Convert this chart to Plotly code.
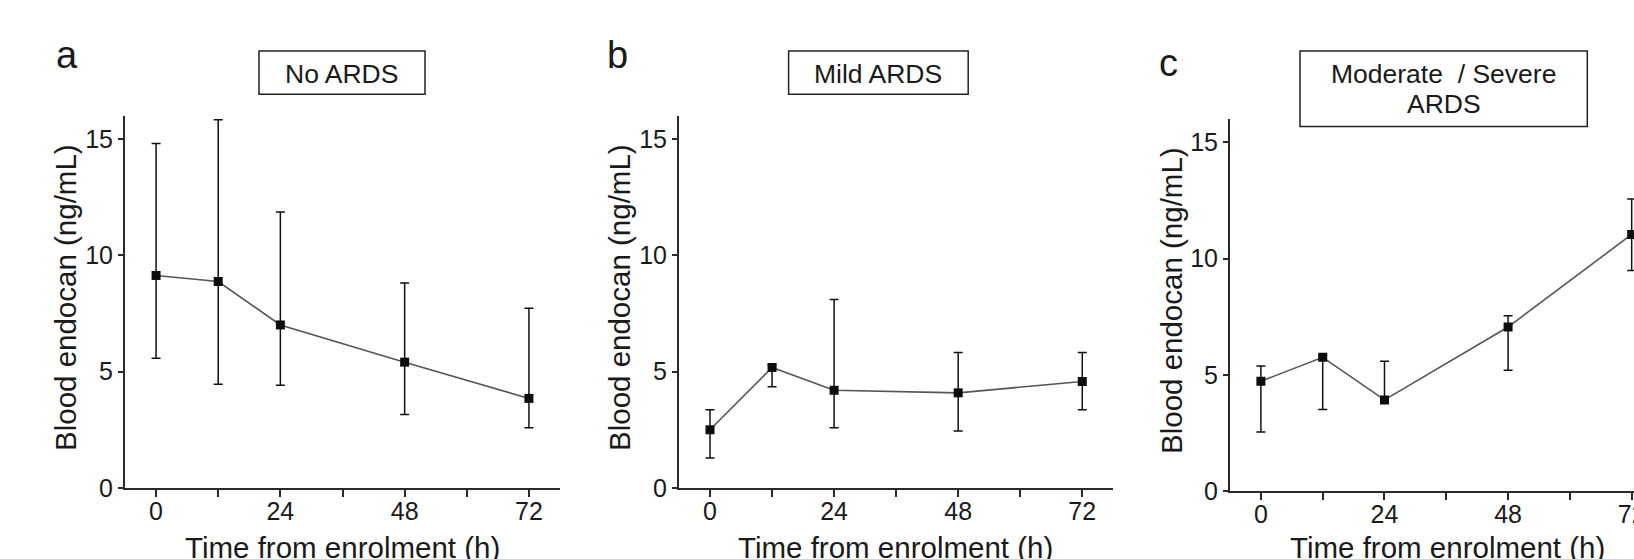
import plotly.graph_objects as go

W, H = 1634, 559

# ---------------- data ----------------
hours = [0, 12, 24, 48, 72]

no_ards_mid = [9.14, 8.88, 7.01, 5.41, 3.85]
no_ards_hi = [14.82, 15.84, 11.87, 8.82, 7.73]
no_ards_lo = [5.58, 4.46, 4.42, 3.16, 2.59]

mild_mid = [2.50, 5.18, 4.20, 4.09, 4.58]
mild_hi = [3.36, 5.30, 8.11, 5.83, 5.83]
mild_lo = [1.29, 4.35, 2.59, 2.45, 3.36]

modsev_mid = [4.73, 5.76, 3.93, 7.06, 11.04]
modsev_hi = [5.39, 5.85, 5.59, 7.54, 12.56]
modsev_lo = [2.55, 3.52, 3.85, 5.20, 9.49]

panel_letters = ["a", "b", "c"]
panel_titles = ["No ARDS", "Mild ARDS", "Moderate\u00a0 / Severe", "ARDS"]
x_title = "Time from enrolment (h)"
y_title = "Blood endocan (ng/mL)"
x_tickvals = [0, 12, 24, 36, 48, 60, 72]
x_ticktext = ["0", "", "24", "", "48", "", "72"]
y_tickvals = [0, 5, 10, 15]

FONT = "Liberation Sans, Arial, Helvetica, sans-serif"
INK = "#1a1a1a"
AX = "#2a2a2a"


def px(x):
    return x / W


def py(y):
    return 1 - y / H


fig = go.Figure()

series = [
    (no_ards_mid, no_ards_hi, no_ards_lo),
    (mild_mid, mild_hi, mild_lo),
    (modsev_mid, modsev_hi, modsev_lo),
]

for i, (mid, hi, lo) in enumerate(series):
    sfx = "" if i == 0 else str(i + 1)
    fig.add_trace(go.Scatter(
        x=hours, y=mid,
        xaxis="x" + sfx, yaxis="y" + sfx,
        mode="lines+markers",
        line=dict(color="#555555", width=1.6),
        marker=dict(symbol="square", size=9, color="#0d0d0d"),
        error_y=dict(type="data", symmetric=False,
                     array=[h - m for h, m in zip(hi, mid)],
                     arrayminus=[m - l for m, l in zip(mid, lo)],
                     color="#111111", thickness=1.5, width=4.5),
        showlegend=False,
        cliponaxis=True,
    ))

# domains in pixels
x_doms = [(125, 560), (679, 1113.3), (1230, 1634)]
y_doms = [(116, 487.9), (116, 487.9), (118.9, 491.4)]
x_ranges = [[-6, 78], [-6, 78], [-6, 72.45]]

axis_common = dict(
    showline=True, linecolor=AX, linewidth=2, showgrid=False, zeroline=False,
    ticks="outside", tickcolor=AX, tickwidth=2,
    tickfont=dict(family=FONT, size=25, color=INK),
    automargin=False, fixedrange=True,
)

layout = dict()
for i in range(3):
    sfx = "" if i == 0 else str(i + 1)
    xd, yd = x_doms[i], y_doms[i]
    layout["xaxis" + sfx] = dict(
        axis_common,
        domain=[px(xd[0]), px(xd[1])],
        range=x_ranges[i],
        tickvals=x_tickvals, ticktext=x_ticktext, ticklen=7,
        ticklabelstandoff=-7,
        ticklabeloverflow="allow",
        anchor="y" + sfx,
    )
    layout["yaxis" + sfx] = dict(
        axis_common,
        domain=[py(yd[1]), py(yd[0])],
        range=[0, 16],
        tickvals=y_tickvals, ticklen=5,
        ticklabelstandoff=0,
        anchor="x" + sfx,
    )

fig.update_layout(
    **layout,
    width=W, height=H,
    margin=dict(l=0, r=0, t=0, b=0),
    paper_bgcolor="white", plot_bgcolor="white",
    font=dict(family=FONT, color=INK),
)

ann = []
# panel letters
for (lx, ly), t in zip([(67, 55), (617, 55), (1168, 63)], panel_letters):
    ann.append(dict(x=px(lx), y=py(ly), xref="paper", yref="paper", text=t,
                    showarrow=False, xanchor="center", yanchor="middle",
                    font=dict(family=FONT, size=38, color=INK)))

# title boxes
boxes = [(259, 51, 425, 94.3), (788.6, 51, 968.2, 94.3), (1300, 51, 1587.3, 126.4)]
shapes = []
for (x0, y0, x1, y1) in boxes:
    shapes.append(dict(type="rect", xref="paper", yref="paper",
                       x0=px(x0), x1=px(x1), y0=py(y1), y1=py(y0),
                       line=dict(color="#222222", width=1.5), fillcolor="rgba(0,0,0,0)"))
title_pos = [(341, 74), (878.4, 74), (1443.7, 74), (1443.7, 104)]
for (tx, ty), t in zip(title_pos, panel_titles):
    ann.append(dict(x=px(tx), y=py(ty), xref="paper", yref="paper", text=t,
                    showarrow=False, xanchor="center", yanchor="middle",
                    font=dict(family=FONT, size=26.5, color=INK)))

# axis titles
for cx in [342, 896, 1447]:
    ann.append(dict(x=px(cx), y=py(547), xref="paper", yref="paper", text=x_title,
                    showarrow=False, xanchor="center", yanchor="middle",
                    font=dict(family=FONT, size=29.5, color=INK)))
for (cx, cy) in [(65, 298), (619, 298), (1171, 301)]:
    ann.append(dict(x=px(cx), y=py(cy), xref="paper", yref="paper", text=y_title,
                    showarrow=False, xanchor="center", yanchor="middle", textangle=-90,
                    font=dict(family=FONT, size=29.5, color=INK)))

fig.update_layout(annotations=ann, shapes=shapes)

fig.write_html("out.html",
               config={"displayModeBar": False},
               post_script="document.body.style.margin='0';document.body.style.overflow='hidden';")
